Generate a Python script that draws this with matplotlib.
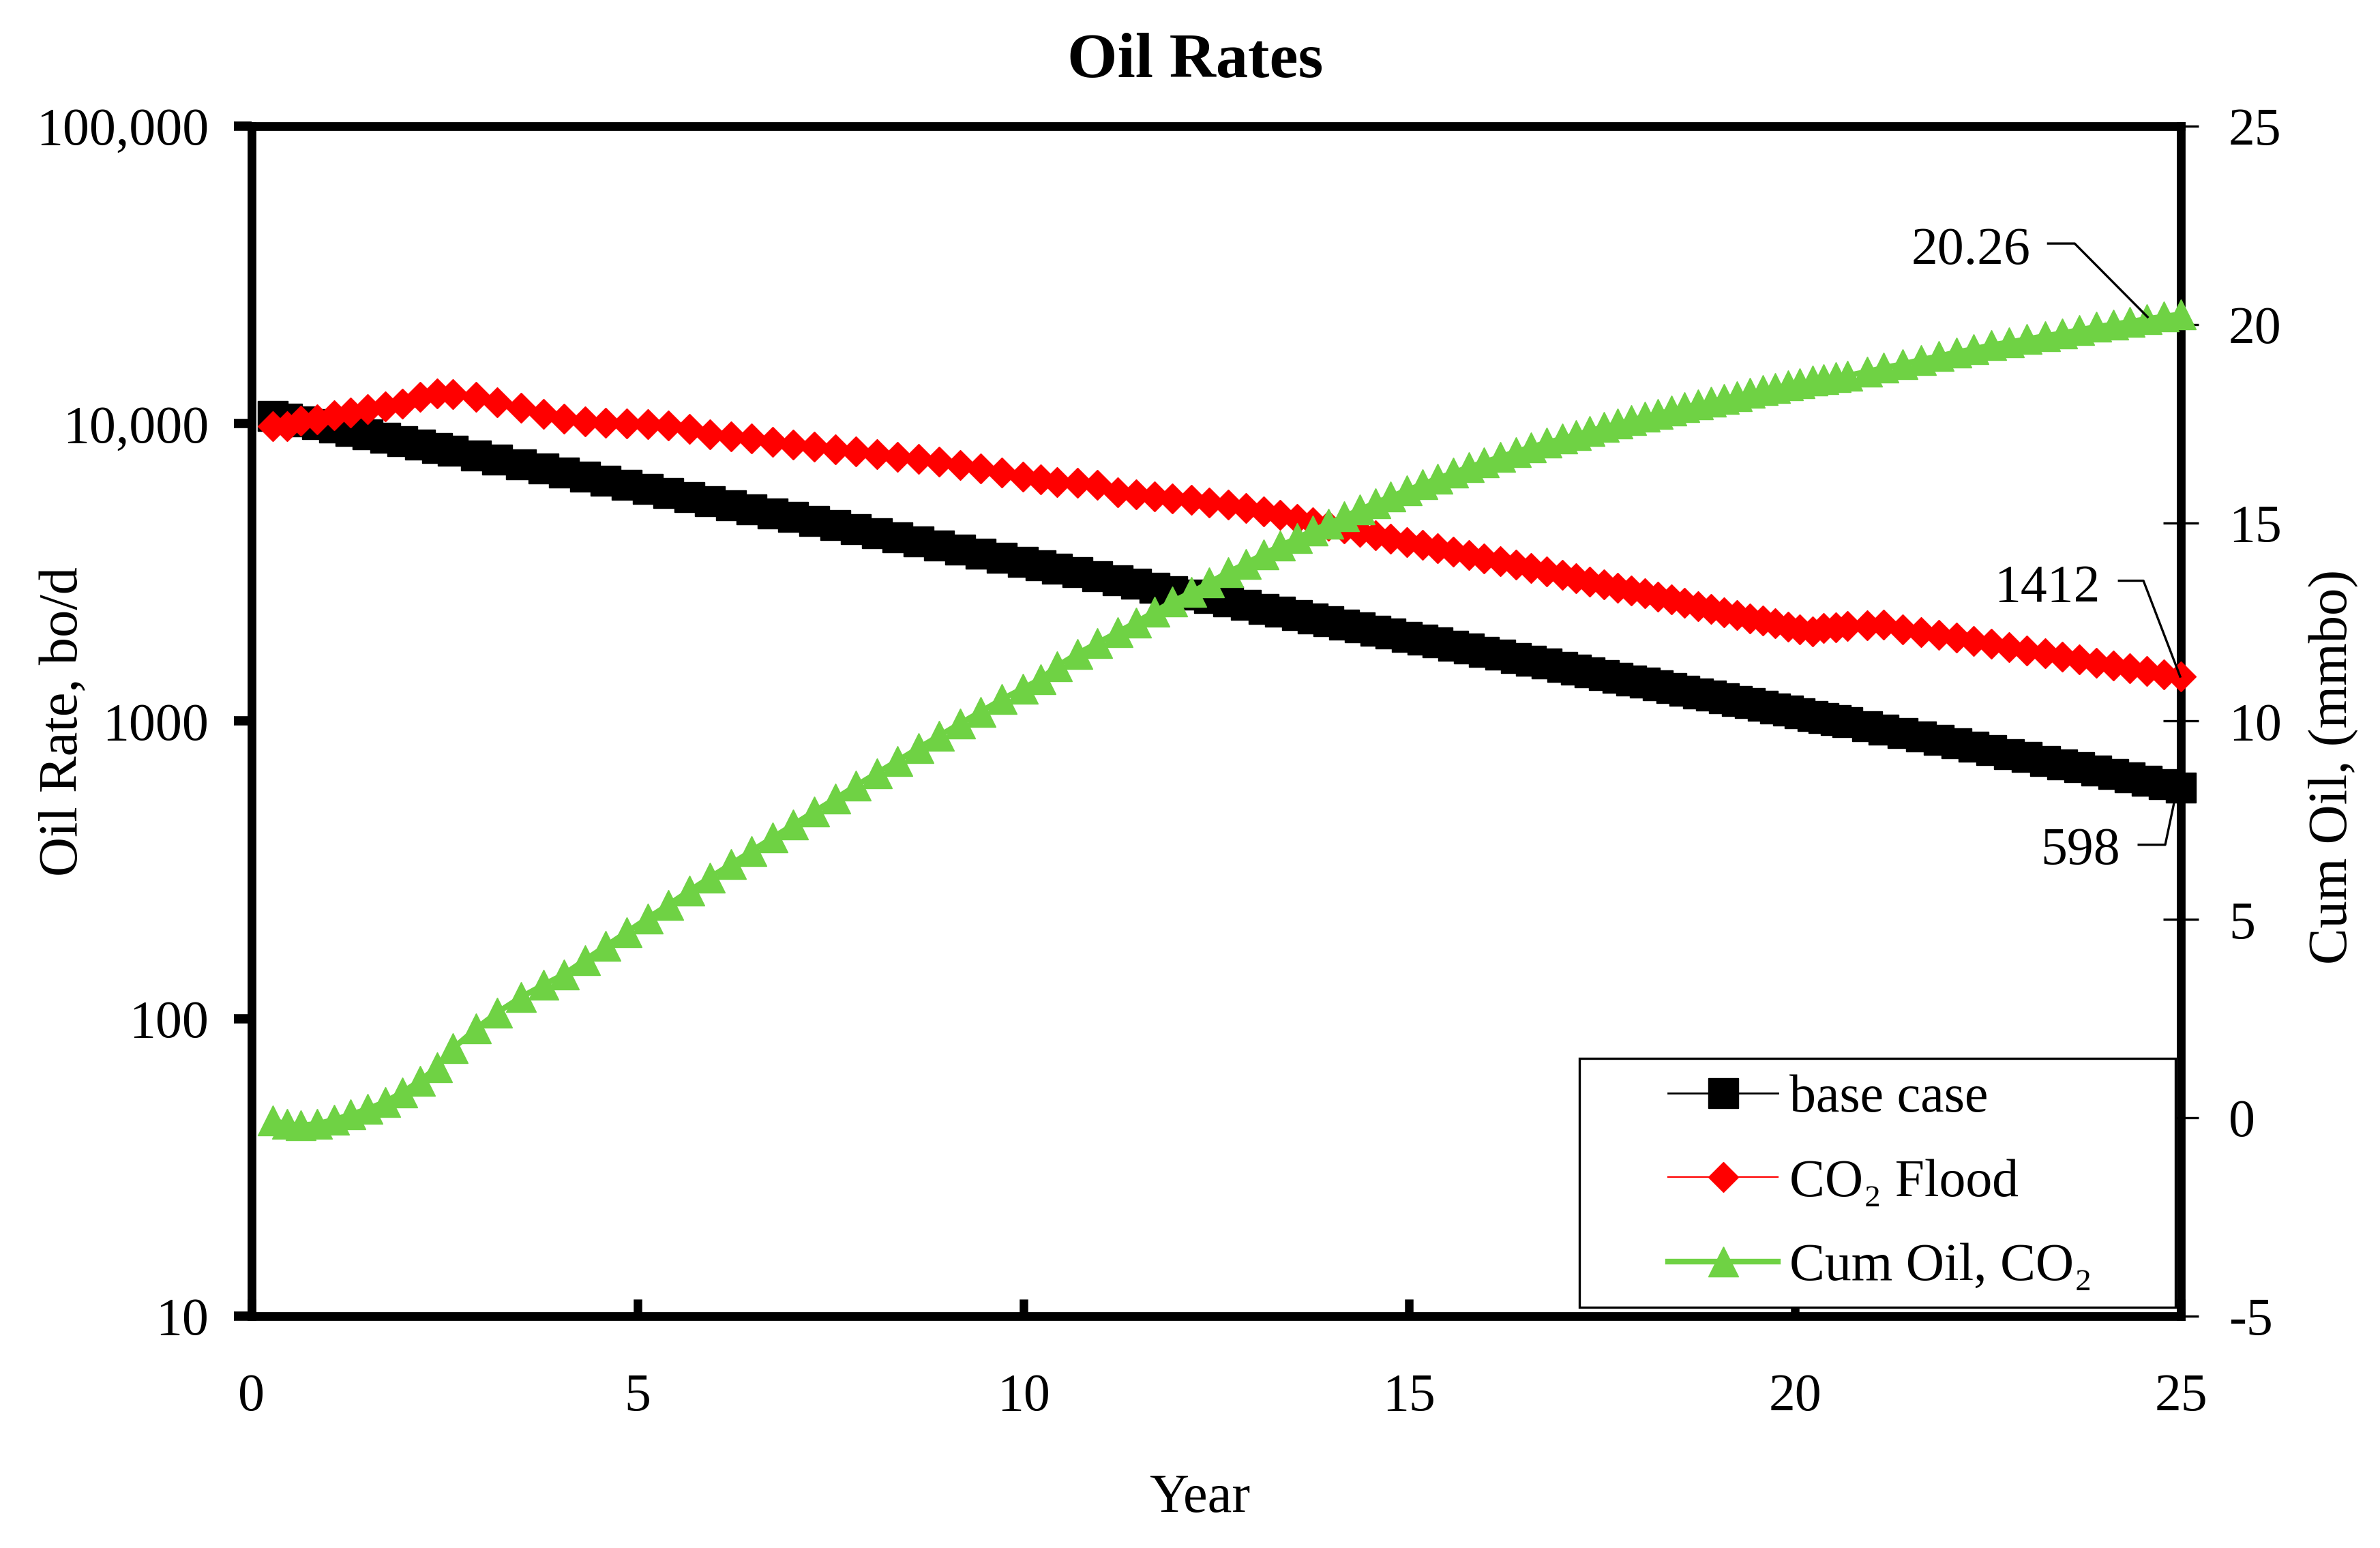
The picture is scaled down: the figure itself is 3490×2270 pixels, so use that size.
import matplotlib
matplotlib.use('Agg')
import matplotlib.pyplot as plt
import matplotlib.transforms as mtransforms
from matplotlib.patches import Rectangle
from matplotlib.ticker import FixedLocator, FixedFormatter, NullLocator

plt.rcParams['font.family'] = ['Liberation Serif', 'DejaVu Serif']
plt.rcParams['axes.unicode_minus'] = False

# report times (years) and the three series
years = [0.27, 0.46, 0.64, 0.85, 1.07, 1.28, 1.50, 1.73, 1.95, 2.18, 2.40, 2.61,
         2.91, 3.18, 3.49, 3.78, 4.05, 4.32, 4.59, 4.86, 5.13, 5.40, 5.67, 5.94, 6.21, 6.48,
         6.75, 7.02, 7.29, 7.56, 7.83, 8.10, 8.37, 8.64, 8.91, 9.18, 9.45, 9.72, 9.99,
         10.22, 10.44, 10.70, 10.96, 11.22, 11.46, 11.70, 11.93, 12.18, 12.41, 12.65, 12.88,
         13.11, 13.33, 13.55,
         13.75, 13.95, 14.16, 14.36, 14.56, 14.76, 14.97, 15.17, 15.37, 15.57, 15.77, 15.97,
         16.18, 16.38, 16.58, 16.78,
         16.98, 17.16, 17.34, 17.52, 17.70, 17.88, 18.05, 18.22, 18.40, 18.57, 18.74, 18.91,
         19.08, 19.25, 19.41, 19.58, 19.74, 19.91, 20.06, 20.23, 20.37, 20.53, 20.68,
         20.93, 21.15, 21.39, 21.63, 21.86, 22.09, 22.31, 22.54, 22.77, 23.00, 23.24, 23.46,
         23.68, 23.90, 24.12, 24.34, 24.56, 24.78, 25.00]

base_case = [10630, 10390, 10180, 9934, 9683, 9450, 9212, 8968, 8742, 8511, 8296, 8096,
             7817, 7576, 7308, 7066, 6848, 6635, 6430, 6232, 6039, 5852, 5671, 5495, 5326, 5161,
             5001, 4847, 4697, 4551, 4411, 4275, 4142, 4014, 3890, 3770, 3654, 3540, 3431,
             3341, 3257, 3160, 3066, 2975, 2893, 2813, 2739, 2660, 2590, 2519, 2453,
             2388, 2328, 2269,
             2216, 2165, 2113, 2064, 2017, 1970, 1923, 1879, 1835, 1793, 1752, 1712,
             1671, 1633, 1595, 1558,
             1522, 1491, 1460, 1430, 1400, 1371, 1344, 1318, 1290, 1265, 1241, 1216,
             1193, 1169, 1148, 1125, 1104, 1083, 1064, 1043, 1026, 1007, 990,
             962, 937, 912, 886, 863, 841, 819, 797, 776, 756, 735, 717,
             699, 681, 664, 647, 630, 615, 598]

co2_flood = [9800, 9820, 10210, 10350, 10670, 10910, 11190, 11450, 11690, 12320, 12650, 12560,
             12320, 11790, 11300, 10800, 10400, 10150, 10050, 10000, 9950, 9850, 9600, 9200, 9050, 8900,
             8700, 8500, 8350, 8200, 8050, 7900, 7750, 7600, 7450, 7250, 7050, 6850, 6650,
             6490, 6350, 6320, 6240, 5880, 5790, 5680, 5600, 5530, 5440, 5340, 5210,
             5070, 4930, 4780,
             4663, 4546, 4433, 4322, 4214, 4108, 4005, 3905, 3807, 3712, 3619, 3528,
             3440, 3354, 3270, 3191,
             3108, 3017, 2948, 2881, 2811, 2748, 2686, 2620, 2561, 2495, 2438, 2379,
             2324, 2273, 2217, 2175, 2130, 2081, 2037, 2001, 2055, 2063, 2085,
             2100, 2111, 2038, 1994, 1950, 1906, 1862, 1818, 1777, 1730, 1688, 1649,
             1612, 1573, 1540, 1505, 1474, 1438, 1412]

cum_oil = [-0.07, -0.15, -0.19, -0.15, -0.05, 0.08, 0.22, 0.40, 0.64, 0.93, 1.27, 1.75,
           2.25, 2.65, 3.04, 3.35, 3.62, 3.98, 4.33, 4.68, 5.03, 5.37, 5.72, 6.06, 6.39, 6.73,
           7.06, 7.39, 7.72, 8.04, 8.37, 8.69, 9.00, 9.32, 9.63, 9.94, 10.24, 10.55, 10.82,
           11.06, 11.39, 11.70, 11.97, 12.24, 12.49, 12.76, 13.01, 13.25, 13.49, 13.75, 13.97,
           14.21, 14.42, 14.62,
           14.80, 14.98, 15.16, 15.33, 15.50, 15.66, 15.82, 15.97, 16.12, 16.26, 16.40, 16.53,
           16.66, 16.79, 16.91, 17.02,
           17.12, 17.22, 17.32, 17.41, 17.50, 17.59, 17.67, 17.75, 17.83, 17.91, 17.98, 18.06,
           18.13, 18.20, 18.27, 18.34, 18.40, 18.46, 18.52, 18.58, 18.63, 18.68, 18.71,
           18.81, 18.91, 19.00, 19.11, 19.20, 19.30, 19.38, 19.48, 19.55, 19.63, 19.71, 19.78,
           19.86, 19.94, 20.00, 20.07, 20.14, 20.20, 20.26]

x_ticks = [0, 5, 10, 15, 20, 25]
rate_ticks = [10, 100, 1000, 10000, 100000]
rate_labels = ['10', '100', '1000', '10,000', '100,000']
cum_ticks = [-5, 0, 5, 10, 15, 20, 25]
series_names = ['base case', 'CO\u2082 Flood', 'Cum Oil, CO\u2082']

green = '#6fd244'
fs = 28

fig = plt.figure(figsize=(17.455, 11.35), dpi=200)
ax = fig.add_axes([0.1057, 0.1498, 0.8104, 0.7687])
ax2 = ax.twinx()

l1, = ax.plot(years, base_case, color='black', lw=1, marker='s', ms=15.5,
              mfc='black', mec='black', mew=0.5, clip_on=False, zorder=3)
l2, = ax.plot(years, co2_flood, color='red', lw=0.8, marker='D', ms=11,
              mfc='red', mec='red', mew=0.5, clip_on=False, zorder=3.1)
l3, = ax2.plot(years, cum_oil, color=green, lw=3, marker='^', ms=16,
               mfc=green, mec=green, mew=0.5, clip_on=False, zorder=3)

ax.set_yscale('log')
ax.set_xlim(0, 25)
ax.set_ylim(10, 100000)
ax2.set_ylim(-5, 25)

ax.set_xticks(x_ticks)
ax.yaxis.set_major_locator(FixedLocator(rate_ticks))
ax.yaxis.set_major_formatter(FixedFormatter(rate_labels))
ax.yaxis.set_minor_locator(NullLocator())
ax2.set_yticks(cum_ticks)

ax.tick_params(axis='x', direction='in', length=9, width=4.5, labelsize=fs, pad=30, top=False)
ax.tick_params(axis='y', direction='out', length=9.5, width=4.9, labelsize=fs, pad=13, right=False)
ax2.tick_params(axis='y', direction='inout', length=19, width=1.2, labelsize=fs, pad=15.6)

for s in ax.spines.values():
    s.set_linewidth(4.6)
for s in ax2.spines.values():
    s.set_visible(False)

fig.text(0.502, 0.9502, 'Oil Rates', ha='center', va='baseline', fontsize=34, fontweight='bold')
fig.text(0.5038, 0.0233, 'Year', ha='center', va='baseline', fontsize=29)
fig.text(0.0266, 0.534, 'Oil Rate, bo/d', rotation=90, ha='center', va='center', fontsize=29)
fig.text(0.9802, 0.5046, 'Cum Oil, (mmbo)', rotation=90, ha='center', va='center', fontsize=29)

# legend with an Excel-like box hugging the lower right corner
ax2.add_patch(Rectangle((0.6634, 0.1555), 0.2504, 0.1608, transform=fig.transFigure,
                        fc='white', ec='black', lw=1.2, zorder=4, clip_on=False))
ax2.legend([l1, l2, l3], series_names, loc='center left', bbox_to_anchor=(0.7007, 0.2357),
           bbox_transform=fig.transFigure, frameon=False, fontsize=fs, handlelength=2.07,
           handletextpad=0.22, labelspacing=0.67, borderpad=0, borderaxespad=0, numpoints=1)

# data labels with leader lines (offsets in points from the labelled point)
pt = mtransforms.Affine2D().scale(1 / 72.0) + fig.dpi_scale_trans
callouts = [
    (ax, 25, 598, '598', (-32, -40.3), [(-22.3, -30.2), (-8.3, -30.2), (-3.6, -7.9)]),
    (ax, 25, 1412, '1412', (-42.8, 39.8), [(-32.7, 50.6), (-19.8, 50.6), (-0.4, 0)]),
    (ax2, 25, 20.26, '20.26', (-79.5, 26.5), [(-70.1, 37.3), (-56.1, 37.3), (-17.6, -1.5)]),
]
for a, xv, yv, txt, toff, path in callouts:
    a.annotate(txt, xy=(xv, yv), xytext=toff, textcoords='offset points',
               ha='right', va='baseline', fontsize=fs, zorder=6)
    tr = pt + mtransforms.ScaledTranslation(xv, yv, a.transData)
    a.plot([p[0] for p in path], [p[1] for p in path], color='black', lw=1.2,
           transform=tr, clip_on=False, zorder=6)

fig.savefig('out.png', dpi=200)
